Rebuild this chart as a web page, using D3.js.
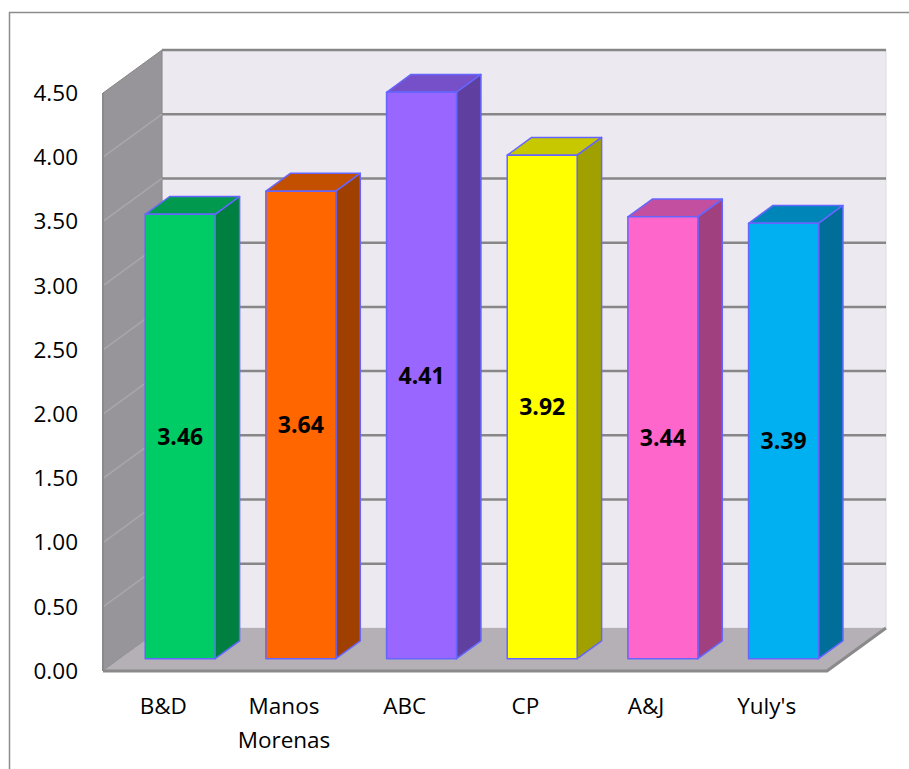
<!DOCTYPE html>
<html>
<head>
<meta charset="utf-8">
<script src="https://cdn.jsdelivr.net/npm/d3@7"></script>
<style>
  body { margin: 0; background: #fff; }
  svg { display: block; font-family: "Open Sans", sans-serif; }
</style>
</head>
<body>
<script>
// Datos del gráfico
const categorias = ["B&D", "Manos Morenas", "ABC", "CP", "A&J", "Yuly's"];
const valores = [3.46, 3.64, 4.41, 3.92, 3.44, 3.39];
const colorFrente = ["#00CC66", "#FF6600", "#9966FF", "#FFFF00", "#FF66CC", "#00B0F0"];
const colorTope = ["#00994D", "#C25000", "#7550C8", "#C8C800", "#C24FA0", "#0085B8"];
const colorLado = ["#008040", "#A04000", "#5F3FA0", "#A0A000", "#A0407E", "#006E98"];
const marcas = [0, 0.5, 1, 1.5, 2, 2.5, 3, 3.5, 4, 4.5];

const ancho = 909, alto = 769;

const svg = d3.select("body")
  .append("svg")
  .attr("width", ancho)
  .attr("height", alto);

// Borde del área del gráfico
svg.append("rect")
  .attr("x", 9.5).attr("y", 12.5)
  .attr("width", 930).attr("height", 800)
  .attr("fill", "#fff")
  .attr("stroke", "#8c8c8c")
  .attr("stroke-width", 1.5);

// Escalas sobre el plano frontal
const x = d3.scaleBand()
  .domain(categorias)
  .range([103, 827])
  .paddingInner(0.42)
  .paddingOuter(0.21);

const y = d3.scaleLinear()
  .domain([0, 4.5])
  .range([671, 93]);

// Proyección de profundidad (t = 0 frente, t = 1 fondo)
const fondoDx = 59, fondoDy = -43;
const proy = (px, py, t) => [px + t * fondoDx, py + t * fondoDy];
const poligono = pts => "M" + pts.map(p => p.join(",")).join("L") + "Z";

const [x0, x1] = x.range();

// Pared del fondo
svg.append("path")
  .attr("d", poligono([proy(x0, y(0), 1), proy(x0, y(4.5), 1), proy(x1, y(4.5), 1), proy(x1, y(0), 1)]))
  .attr("fill", "#ECE9F1")
  .attr("stroke", "#dcdadf");

// Pared izquierda
svg.append("path")
  .attr("d", poligono([[x0, y(0)], [x0, y(4.5)], proy(x0, y(4.5), 1), proy(x0, y(0), 1)]))
  .attr("fill", "#979599")
  .attr("stroke", "#858585");

// Piso
svg.append("path")
  .attr("d", poligono([[x0, y(0)], [x1, y(0)], proy(x1, y(0), 1), proy(x0, y(0), 1)]))
  .attr("fill", "#B4B0B5");

// Líneas de la cuadrícula
svg.selectAll("line.fondo")
  .data(marcas.slice(1))
  .join("line")
  .attr("class", "fondo")
  .attr("x1", proy(x0, 0, 1)[0])
  .attr("x2", proy(x1, 0, 1)[0])
  .attr("y1", d => proy(0, y(d), 1)[1])
  .attr("y2", d => proy(0, y(d), 1)[1])
  .attr("stroke", "#878787")
  .attr("stroke-width", 2.5);

svg.selectAll("line.lado")
  .data(marcas.slice(1, -1))
  .join("line")
  .attr("class", "lado")
  .attr("x1", x0)
  .attr("y1", d => y(d))
  .attr("x2", proy(x0, 0, 1)[0])
  .attr("y2", d => proy(0, y(d), 1)[1])
  .attr("stroke", "#a9a7ab")
  .attr("stroke-width", 1.5);

// Borde frontal del piso
svg.append("path")
  .attr("d", "M" + [x0, y(0)] + "L" + [x1, y(0)] + "L" + proy(x1, y(0), 1))
  .attr("fill", "none")
  .attr("stroke", "#8a8a8a")
  .attr("stroke-width", 3);

svg.append("line")
  .attr("x1", x0).attr("x2", x0)
  .attr("y1", y(0)).attr("y2", y(4.5))
  .attr("stroke", "#8a8a8a")
  .attr("stroke-width", 2);

// Barras en 3D
const t0 = 0.286, t1 = 0.70;
const barras = svg.selectAll("g.barra")
  .data(categorias.map((c, i) => ({ c, v: valores[i], i })))
  .join("g")
  .attr("class", "barra")
  .attr("stroke", "#6666FF")
  .attr("stroke-width", 1.5)
  .attr("stroke-linejoin", "round");

barras.append("path")
  .attr("d", d => {
    const xi = x(d.c), xd = xi + x.bandwidth(), yt = y(d.v);
    return poligono([proy(xi, yt, t0), proy(xi, yt, t1), proy(xd, yt, t1), proy(xd, yt, t0)]);
  })
  .attr("fill", d => colorTope[d.i]);

barras.append("path")
  .attr("d", d => {
    const xd = x(d.c) + x.bandwidth(), yt = y(d.v);
    return poligono([proy(xd, yt, t0), proy(xd, yt, t1), proy(xd, y(0), t1), proy(xd, y(0), t0)]);
  })
  .attr("fill", d => colorLado[d.i]);

barras.append("path")
  .attr("d", d => {
    const xi = x(d.c), xd = xi + x.bandwidth(), yt = y(d.v);
    return poligono([proy(xi, yt, t0), proy(xd, yt, t0), proy(xd, y(0), t0), proy(xi, y(0), t0)]);
  })
  .attr("fill", d => colorFrente[d.i]);

// Etiquetas de valor
barras.append("text")
  .attr("x", d => proy(x(d.c) + x.bandwidth() / 2, 0, t0)[0])
  .attr("y", d => proy(0, (y(d.v) + y(0)) / 2, t0)[1])
  .attr("dy", "0.35em")
  .attr("text-anchor", "middle")
  .attr("stroke", "none")
  .attr("font-size", 23)
  .attr("font-weight", "bold")
  .attr("fill", "#000")
  .text(d => d.v.toFixed(2));

// Etiquetas del eje vertical
svg.selectAll("text.eje")
  .data(marcas)
  .join("text")
  .attr("class", "eje")
  .attr("x", 78)
  .attr("y", d => y(d))
  .attr("dy", "0.35em")
  .attr("text-anchor", "end")
  .attr("font-size", 22.5)
  .attr("fill", "#000")
  .text(d => d.toFixed(2));

// Etiquetas de categorías
svg.selectAll("text.cat")
  .data(categorias)
  .join("text")
  .attr("class", "cat")
  .attr("text-anchor", "middle")
  .attr("font-size", 22.5)
  .attr("fill", "#000")
  .each(function (d) {
    const cx = x(d) + x.bandwidth() / 2;
    d3.select(this).selectAll("tspan")
      .data(d.split(" "))
      .join("tspan")
      .attr("x", cx)
      .attr("y", (l, k) => 714 + k * 34)
      .text(l => l);
  });
</script>
</body>
</html>
